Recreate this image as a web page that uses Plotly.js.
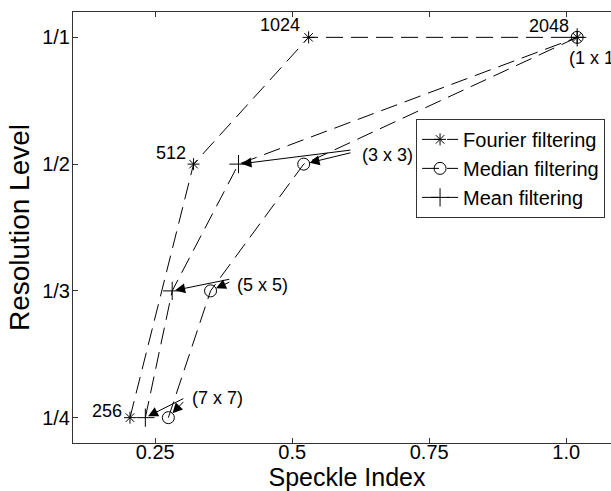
<!DOCTYPE html>
<html>
<head>
<meta charset="utf-8">
<script src="https://cdn.plot.ly/plotly-3.0.1.min.js"></script>
<style>
html,body{margin:0;padding:0;overflow:hidden;background:#fff;}
#chart{width:625px;height:491px;}
</style>
</head>
<body>
<div id="chart"></div>
<script>
// Resolution levels (1/4, 1/3, 1/2, 1/1) mapped to positions 1..4
var levelPos = [1, 2, 3, 4];
var levelLabels = ["1/4", "1/3", "1/2", "1/1"];
var xTicks = [0.25, 0.5, 0.75, 1.0];
var xTickLabels = ["0.25", "0.5", "0.75", "1.0"];

// Fourier filtering (image sizes 256, 512, 1024, 2048)
var fourierX = [0.204, 0.320, 0.530, 1.020];
var fourierY = [1, 3, 4, 4];
var fourierLabels = ["256", "512", "1024", "2048"];

// Median filtering (window sizes 7x7, 5x5, 3x3, 1x1)
var medianX = [0.274, 0.351, 0.521, 1.020];
var medianY = [1, 2, 3, 4];

// Mean filtering
var meanX = [0.232, 0.281, 0.402, 1.020];
var meanY = [1, 2, 3, 4];

var windowLabels = ["(7 x 7)", "(5 x 5)", "(3 x 3)", "(1 x 1)"];

var black = "#000";
var dash = "17px,8px";

var traces = [
  {x: fourierX, y: fourierY, name: "Fourier filtering", mode: "lines+markers",
   line: {color: black, width: 1, dash: dash},
   marker: {symbol: "asterisk-open", size: 10, color: black, line: {color: black, width: 1}}},
  {x: medianX, y: medianY, name: "Median filtering", mode: "lines+markers",
   line: {color: black, width: 1, dash: dash},
   marker: {symbol: "circle-open", size: 12, color: black, line: {color: black, width: 1}}},
  {x: meanX, y: meanY, name: "Mean filtering", mode: "lines+markers",
   line: {color: black, width: 1, dash: dash},
   marker: {symbol: "cross-thin-open", size: 13, color: black, line: {color: black, width: 1}}}
];

var labelFont = {family: "Liberation Sans, Arial, sans-serif", size: 18, color: black};
var annotations = [];

// Fourier size labels
var fourierOffsets = [[-6, -7], [-6, -11], [-7, -12], [-6, -11]];
for (var i = 0; i < fourierX.length; i++) {
  annotations.push({x: fourierX[i], y: fourierY[i], xref: "x", yref: "y",
    text: fourierLabels[i], showarrow: false, xanchor: "right", yanchor: "middle",
    xshift: fourierOffsets[i][0], yshift: -fourierOffsets[i][1], font: labelFont});
}

// Window-size labels with arrows to mean and median points
var tailX = [0.304, 0.388, 0.609];
var tailY = [1.156, 2.094, 3.112];
var labelX = [0.3135, 0.396, 0.624];
var labelY = [1.156, 2.047, 3.072];
for (var j = 0; j < 3; j++) {
  annotations.push({x: labelX[j], y: labelY[j], xref: "x", yref: "y",
    text: windowLabels[j], showarrow: false, xanchor: "left", yanchor: "middle", font: labelFont});
  annotations.push({x: meanX[j], y: meanY[j], xref: "x", yref: "y",
    ax: tailX[j], ay: tailY[j], axref: "x", ayref: "y", text: "",
    showarrow: true, arrowhead: 2, arrowsize: 2, arrowwidth: 1, arrowcolor: black, standoff: 3});
  annotations.push({x: medianX[j], y: medianY[j], xref: "x", yref: "y",
    ax: tailX[j], ay: tailY[j] - 0.02, axref: "x", ayref: "y", text: "",
    showarrow: true, arrowhead: 2, arrowsize: 2, arrowwidth: 1, arrowcolor: black, standoff: 6});
}
// (1 x 1) label
annotations.push({x: medianX[3], y: medianY[3], xref: "x", yref: "y",
  text: windowLabels[3], showarrow: false, xanchor: "left", yanchor: "middle",
  xshift: -10, yshift: -21, font: labelFont});

var layout = {
  width: 625, height: 491,
  margin: {l: 73, r: 4, t: 12, b: 48},
  paper_bgcolor: "#fff", plot_bgcolor: "#fff",
  font: {family: "Liberation Sans, Arial, sans-serif", color: black},
  showlegend: true,
  legend: {x: 0.626, y: 0.752, xanchor: "left", yanchor: "top",
    bordercolor: "#333", borderwidth: 1, bgcolor: "#fff",
    font: {size: 20, color: black}, itemwidth: 36, tracegroupgap: 0},
  xaxis: {range: [0.1, 1.1], tickvals: xTicks, ticktext: xTickLabels,
    showgrid: false, zeroline: false, showline: true, linecolor: "#333", linewidth: 1,
    mirror: "ticks", ticks: "inside", ticklen: 5, tickcolor: "#333",
    ticklabelstandoff: -9,
    tickfont: {size: 20, color: black},
    title: {text: "Speckle Index", font: {size: 25, color: black}, standoff: 0}},
  yaxis: {range: [0.8, 4.2], tickvals: levelPos, ticktext: levelLabels,
    showgrid: false, zeroline: false, showline: true, linecolor: "#333", linewidth: 1,
    mirror: "ticks", ticks: "inside", ticklen: 5, tickcolor: "#333",
    ticklabelstandoff: -2,
    tickfont: {size: 20, color: black},
    title: {text: "Resolution Level", font: {size: 28, color: black}, standoff: 4}},
  annotations: annotations
};

Plotly.newPlot("chart", traces, layout, {staticPlot: true, displayModeBar: false});
</script>
</body>
</html>
